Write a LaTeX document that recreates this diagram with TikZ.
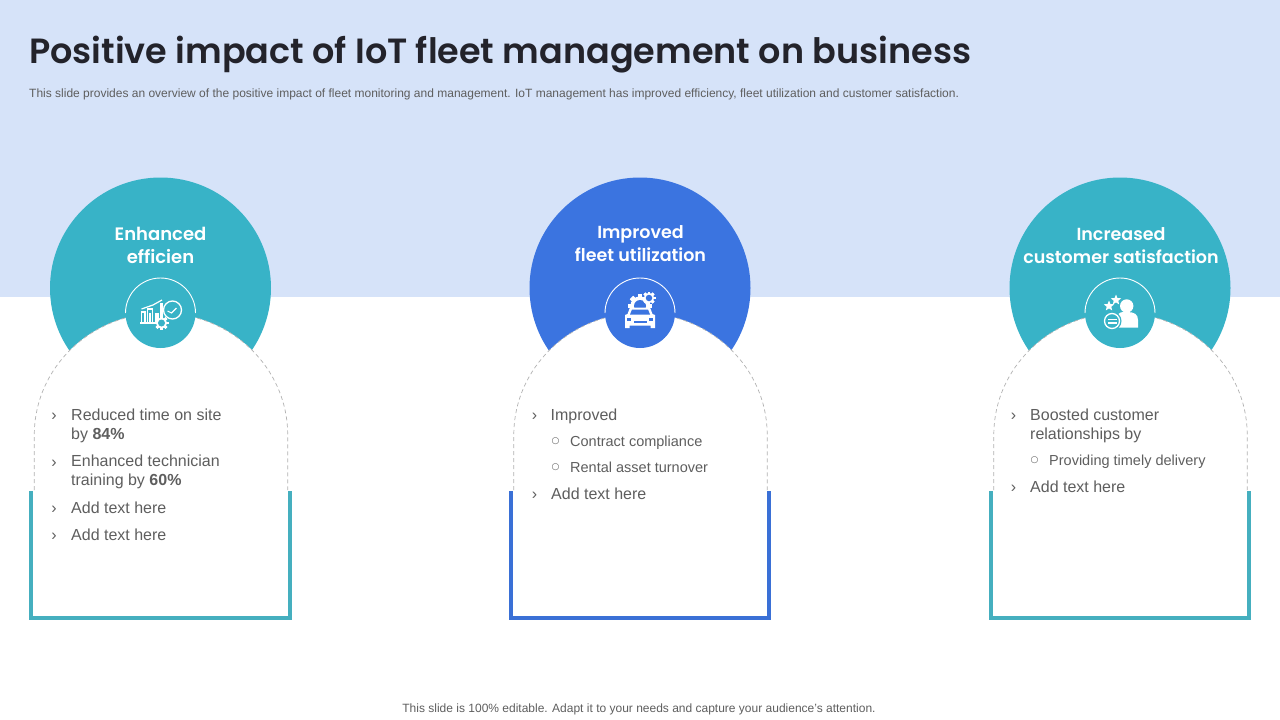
\documentclass[tikz,border=0pt]{standalone}
\usepackage{fontspec}
\setmainfont{Liberation Sans}
\newfontfamily\headfont{Poppins SemiBold}
\newfontfamily\symfont{DejaVu Sans}
\usetikzlibrary{shapes.geometric,calc}
\definecolor{bandblue}{HTML}{D6E3F9}
\definecolor{tealc}{HTML}{38B3C7}
\definecolor{bluec}{HTML}{3B74E0}
\definecolor{tealf}{HTML}{45AFBF}
\definecolor{bluef}{HTML}{3A70D6}
\definecolor{bodygray}{HTML}{5E5E5E}
\definecolor{titleink}{HTML}{23232B}
\tikzset{
  x=1pt,y=-1pt,
  headtext/.style={font=\headfont\fontsize{17.5}{23}\selectfont,text=white,align=center,inner sep=0pt},
  bodytext/.style={font=\fontsize{16}{19.7}\selectfont,text=bodygray,anchor=base west,inner sep=0pt,align=left},
  subtext/.style={font=\fontsize{14.5}{18}\selectfont,text=bodygray,anchor=base west,inner sep=0pt},
  mark char/.style={font=\fontsize{16}{19}\selectfont,text=bodygray,anchor=base,inner sep=0pt},
  sub mark/.style={font=\symfont\fontsize{9}{11}\selectfont,text=bodygray,anchor=center,inner sep=0pt},
  arch line/.style={draw=black!30,dash pattern=on 4pt off 3pt,line width=0.7pt},
  frame line/.style={line width=4pt,line join=miter},
  icon/.style={fill=white,draw=none},
  iconline/.style={draw=white,line width=1.3pt,fill=none},
  star icon/.style={star,star points=5,star point ratio=2.3,fill=white,minimum size=11pt,inner sep=0pt},
}
% gear: x, y, outer radius, hole colour
\newcommand{\geargl}[4]{%
  \foreach \a in {0,45,...,315}{%
    \fill[white,rotate around={\a:(#1,#2)}] ($(#1,#2)+(-#3*0.2,-#3)$) rectangle ($(#1,#2)+(#3*0.2,#3)$);}
  \fill[white] (#1,#2) circle[radius=#3*0.8];
  \fill[#4] (#1,#2) circle[radius=#3*0.5];}
\newcommand{\card}[3]{%
  \begin{scope}[shift={(#1,0)}]
    \fill[#2] (-0.5,288) circle[radius=110.5];
    \fill[white] (-126.7,491) -- (-126.7,435) arc[start angle=180,end angle=360,x radius=126.7,y radius=122] -- (126.7,491) -- cycle;
    \path[arch line] (-126.7,490) -- (-126.7,435) arc[start angle=180,end angle=360,x radius=126.7,y radius=122] -- (126.7,490);
    \draw[#3,frame line] (-130,491) -- (-130,618) -- (128.5,618) -- (128.5,491);
    \fill[#2] (-0.5,313) circle[radius=35];
    \draw[white,line width=0.9pt] (-35.5,313) arc[start angle=180,end angle=360,radius=35];
  \end{scope}}
\begin{document}
\begin{tikzpicture}
\useasboundingbox (0,0) rectangle (1280,720);
\fill[bandblue] (0,0) rectangle (1280,297);
\node[anchor=base west,inner sep=0pt,font=\headfont\fontsize{35}{40}\selectfont,text=titleink] (title) at (29,63) {Positive impact of IoT fleet management on business};
\node[anchor=base west,inner sep=0pt,font=\fontsize{12}{14}\selectfont,text=bodygray] (sub) at (29,97) {This slide provides an overview of the positive impact of fleet monitoring and management. IoT management has improved efficiency, fleet utilization and customer satisfaction.};
\card{161}{tealc}{tealf}
\card{640.5}{bluec}{bluef}
\card{1120.5}{tealc}{tealf}
\node[headtext,font=\headfont\fontsize{18}{23}\selectfont] (h1) at (160.5,245) {Enhanced\\efficien};
\node[headtext] (h2) at (640.5,244) {Improved\\fleet utilization};
\node[headtext] (h3) at (1121,246) {Increased\\customer satisfaction};
% icon 1: chart, clock, gear
\begin{scope}[shift={(160.5,313)}]
  \draw[iconline,line width=1.2pt] (-19,9) -- (-19,-1) -- (-15.5,-1) -- (-15.5,9);
  \draw[iconline,line width=1.2pt] (-13,9) -- (-13,-4) -- (-8,-4) -- (-8,9);
  \fill[icon] (-11.5,0) rectangle (-9.5,9);
  \fill[icon] (-5.5,0) rectangle (-2,9);
  \fill[icon] (-1,-10) rectangle (2.5,3);
  \fill[icon] (-21,8.5) rectangle (-3,10.5);
  \draw[white,line width=1.2pt] (-19,-4) -- (-7.5,-8) -- (1.5,-13);
  \draw[iconline] (12,-3) circle[radius=9];
  \draw[white,line width=1.1pt] (7,-2) -- (11,0) -- (16,-5);
  \geargl{1}{10}{7}{tealc}
\end{scope}
% icon 2: car, gears
\begin{scope}[shift={(640,313)}]
  \geargl{0}{-7}{12}{bluec}
  \geargl{9}{-15}{6.5}{bluec}
  \fill[white] (-10,-5.5) -- (10,-5.5) -- (12.5,1) -- (15,2) -- (15,15) -- (10.5,15) -- (10.5,12.5) -- (-10.5,12.5) -- (-10.5,15) -- (-15,15) -- (-15,2) -- (-12.5,1) -- cycle;
  \fill[bluec] (-8,-3.5) -- (8,-3.5) -- (10,1.5) -- (-10,1.5) -- cycle;
  \fill[bluec] (-13,5) rectangle (-9,7.5);
  \fill[bluec] (9,5) rectangle (13,7.5);
  \fill[bluec] (-6.5,8) rectangle (6.5,10);
\end{scope}
% icon 3: person, stars, chat
\begin{scope}[shift={(1120,313)}]
  \fill[icon] (6.7,-7) circle[radius=6.7];
  \fill[icon] (-3,14.7) -- (-3,2) .. controls (-1,-1) and (2,-1) .. (7,-1) .. controls (14,-1) and (18,1) .. (18,7) -- (18,14.7) -- cycle;
  \fill[tealc] (-8,8) circle[radius=9.5];
  \draw[iconline] (-8,8) circle[radius=7.5];
  \fill[icon] (-12.5,5.5) rectangle (-3.5,7.2);
  \fill[icon] (-12.5,9) rectangle (-3.5,10.7);
  \node[star icon] (st1) at (-4,-13) {};
  \node[star icon] (st2) at (-11,-7) {};
\end{scope}
% bodies card 1
\node[mark char] (m11) at (54,420) {›};
\node[bodytext,anchor=north west] (t11) at (71,408.5) {Reduced time on site\\by \textbf{84\%}};
\node[mark char] (m12) at (54,467) {›};
\node[bodytext,anchor=north west] (t12) at (71,454.5) {Enhanced technician\\training by \textbf{60\%}};
\node[mark char] (m13) at (54,513) {›};
\node[bodytext] (t13) at (71,513) {Add text here};
\node[mark char] (m14) at (54,540) {›};
\node[bodytext] (t14) at (71,540) {Add text here};
% card 2
\node[mark char] (m21) at (534.5,420) {›};
\node[bodytext] (t21) at (550.5,420) {Improved};
\node[sub mark] (m22) at (555.5,441) {○};
\node[subtext] (t22) at (570,446) {Contract compliance};
\node[sub mark] (m23) at (555.5,467) {○};
\node[subtext] (t23) at (570,472) {Rental asset turnover};
\node[mark char] (m24) at (534.5,499) {›};
\node[bodytext] (t24) at (551,499) {Add text here};
% card 3
\node[mark char] (m31) at (1013.5,420) {›};
\node[bodytext,anchor=north west] (t31) at (1030,408.5) {Boosted customer\\relationships by};
\node[sub mark] (m32) at (1034.5,460) {○};
\node[subtext] (t32) at (1049,465) {Providing timely delivery};
\node[mark char] (m33) at (1013.5,492) {›};
\node[bodytext] (t33) at (1030,492) {Add text here};
\node[anchor=base,inner sep=0pt,font=\fontsize{12}{14}\selectfont,text=bodygray] (foot) at (639,712.5) {This slide is 100\% editable. Adapt it to your needs and capture your audience's attention.};
\end{tikzpicture}
\end{document}
